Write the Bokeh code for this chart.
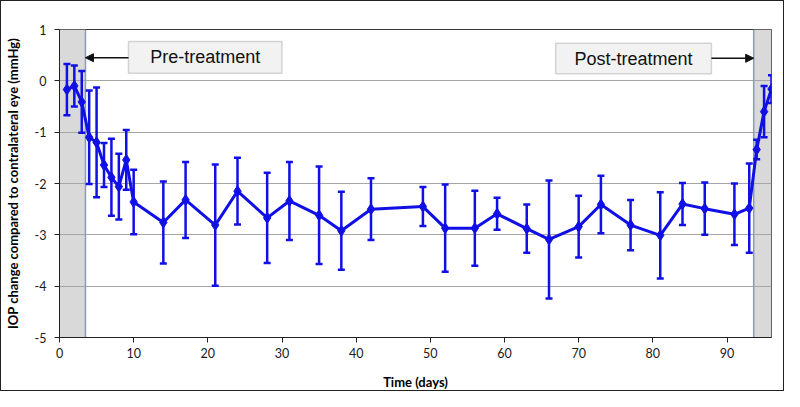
from bokeh.plotting import figure
from bokeh.models import (ColumnDataSource, Whisker, TeeHead, BoxAnnotation, Span,
                          Label, Arrow, NormalHead, FixedTicker, Range1d)
from bokeh.embed import file_html
from bokeh.resources import INLINE

# ---- data ----
days = [1, 2, 3, 4, 5, 6, 7, 8, 9, 10, 14, 17, 21, 24, 28, 31, 35, 38, 42, 49,
        52, 56, 59, 63, 66, 70, 73, 77, 81, 84, 87, 91, 93, 94, 95, 96]
iop_change = [-0.17, -0.10, -0.41, -1.10, -1.20, -1.64, -1.88, -2.06, -1.54, -2.36,
              -2.76, -2.32, -2.81, -2.15, -2.67, -2.34, -2.62, -2.92, -2.50, -2.45,
              -2.87, -2.87, -2.59, -2.88, -3.09, -2.84, -2.41, -2.81, -3.01, -2.40,
              -2.49, -2.60, -2.48, -1.34, -0.60, -0.16]
error = [0.50, 0.40, 0.60, 0.91, 1.07, 0.43, 0.75, 0.64, 0.58, 0.63,
         0.80, 0.74, 1.18, 0.65, 0.88, 0.76, 0.95, 0.76, 0.60, 0.38,
         0.85, 0.73, 0.31, 0.47, 1.15, 0.60, 0.56, 0.49, 0.84, 0.41,
         0.51, 0.60, 0.87, 0.19, 0.50, 0.27]

x_ticks = [0, 10, 20, 30, 40, 50, 60, 70, 80, 90]
x_tick_labels = ["0", "10", "20", "30", "40", "50", "60", "70", "80", "90"]
y_ticks = [-5, -4, -3, -2, -1, 0, 1]
y_tick_labels = ["-5", "-4", "-3", "-2", "-1", "0", "1"]

x_limits = (0, 96)
y_limits = (-5, 1)
pre_period = (0, 3.5)
post_period = (93.6, 96)

x_title = "Time (days)"
y_title = "IOP change compared to contralateral eye (mmHg)"
pre_text = "Pre-treatment"
post_text = "Post-treatment"

# ---- figure ----
BLUE = "#1010e6"
p = figure(width=784, height=391, output_backend="svg", toolbar_location=None,
           x_range=Range1d(*x_limits), y_range=Range1d(*y_limits),
           min_border_left=56, min_border_right=14, min_border_top=28,
           min_border_bottom=50)
p.styles = {"border": "1px solid #222222"}
p.outline_line_color = "#3a3a3a"
p.outline_line_width = 1

# shaded periods
for lo, hi in (pre_period, post_period):
    p.add_layout(BoxAnnotation(left=lo, right=hi, fill_color="#d9d9d9", fill_alpha=1.0,
                               line_color=None, level="image"))
p.add_layout(Span(location=pre_period[1], dimension="height", line_color="#8c9bb5",
                  line_width=1.5, level="underlay"))
p.add_layout(Span(location=post_period[0], dimension="height", line_color="#8c9bb5",
                  line_width=1.5, level="underlay"))

# grid
p.xgrid.grid_line_color = None
p.ygrid.grid_line_color = "#a6a6a6"
p.ygrid.grid_line_width = 1
p.ygrid.ticker = FixedTicker(ticks=y_ticks)

# axes
p.xaxis.ticker = FixedTicker(ticks=x_ticks)
p.yaxis.ticker = FixedTicker(ticks=y_ticks)
p.xaxis.major_label_overrides = dict(zip(x_ticks, x_tick_labels))
p.yaxis.major_label_overrides = dict(zip(y_ticks, y_tick_labels))
for ax in (p.xaxis, p.yaxis):
    ax.axis_line_color = "#222222"
    ax.major_tick_line_color = "#222222"
    ax.major_tick_out = 5
    ax.major_tick_in = 0
    ax.minor_tick_line_color = None
    ax.major_label_text_font = "Lato"
    ax.major_label_text_font_size = "12.5px"
    ax.major_label_text_color = "#1a1a1a"
    ax.axis_label_text_font = "Lato"
    ax.axis_label_text_font_style = "bold"
    ax.axis_label_text_font_size = "13px"
    ax.axis_label_text_color = "#000000"
p.xaxis.axis_label = x_title
p.yaxis.axis_label = y_title
p.xaxis.major_label_standoff = 5
p.yaxis.major_label_standoff = 8
p.xaxis.axis_label_standoff = 13
p.yaxis.axis_label_standoff = 11

# data
src = ColumnDataSource(data=dict(
    x=days, y=iop_change,
    upper=[m + e for m, e in zip(iop_change, error)],
    lower=[m - e for m, e in zip(iop_change, error)]))

p.add_layout(Whisker(source=src, base="x", upper="upper", lower="lower",
                     line_color=BLUE, line_width=2.5, level="glyph",
                     upper_head=TeeHead(size=7, line_color=BLUE, line_width=2.5),
                     lower_head=TeeHead(size=7, line_color=BLUE, line_width=2.5)))
p.line("x", "y", source=src, line_color=BLUE, line_width=3)
p.scatter("x", "y", source=src, marker="diamond", size=11, fill_color=BLUE,
          line_color=BLUE)

# annotation boxes and arrows
BOX_FILL = "#f2f2f2"
BOX_LINE = "#7f7f7f"
p.add_layout(BoxAnnotation(left=9.3, right=30.0, bottom=0.15, top=0.765,
                           fill_color=BOX_FILL, fill_alpha=1.0, line_color=BOX_LINE,
                           line_width=1.5, level="annotation"))
p.add_layout(BoxAnnotation(left=66.9, right=87.9, bottom=0.14, top=0.73,
                           fill_color=BOX_FILL, fill_alpha=1.0, line_color=BOX_LINE,
                           line_width=1.5, level="annotation"))
p.add_layout(Label(x=19.65, y=0.455, text=pre_text, text_align="center",
                   text_baseline="middle", text_font="Liberation Sans",
                   text_font_size="18px", text_color="#111111"))
p.add_layout(Label(x=77.4, y=0.435, text=post_text, text_align="center",
                   text_baseline="middle", text_font="Liberation Sans",
                   text_font_size="18px", text_color="#111111"))
p.add_layout(Arrow(x_start=9.3, y_start=0.45, x_end=pre_period[1], y_end=0.45,
                   line_color="#111111", line_width=1.5,
                   end=NormalHead(size=8, fill_color="#111111", line_color="#111111")))
p.add_layout(Arrow(x_start=87.9, y_start=0.44, x_end=post_period[0], y_end=0.44,
                   line_color="#111111", line_width=1.5,
                   end=NormalHead(size=8, fill_color="#111111", line_color="#111111")))

open("out.html", "w").write(file_html(p, INLINE))
